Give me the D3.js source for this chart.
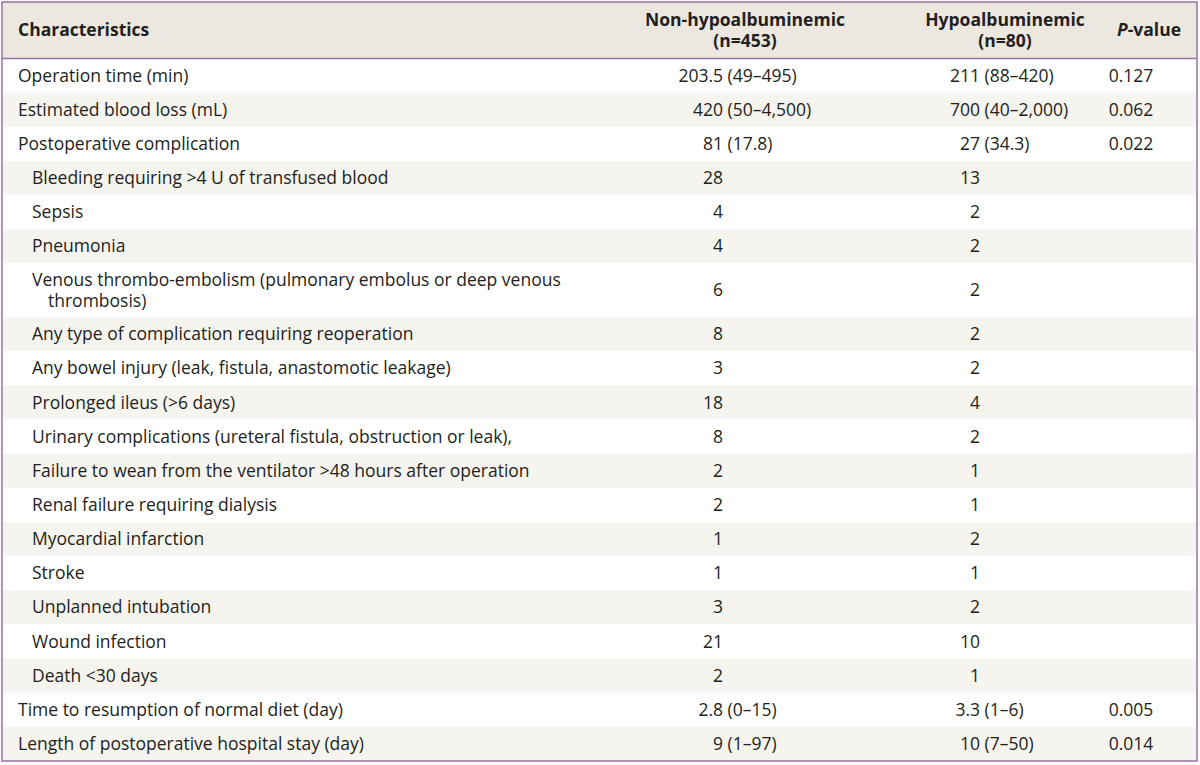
<!DOCTYPE html>
<html>
<head>
<meta charset="utf-8">
<script src="https://cdn.jsdelivr.net/npm/d3@7"></script>
<style>
  html, body { margin: 0; padding: 0; background: #fff; }
  svg { display: block; }
  text { font-family: "Open Sans", "Noto Sans", sans-serif; fill: #231f20; }
</style>
</head>
<body>
<svg id="chart" width="1200" height="765"></svg>
<script>
// ---- data ----
const headers = ["Characteristics", "Non-hypoalbuminemic", "Hypoalbuminemic", "P-value"];
const headerSub = ["", "(n=453)", "(n=80)", ""];
const characteristics = [
  ["Operation time (min)"],
  ["Estimated blood loss (mL)"],
  ["Postoperative complication"],
  ["Bleeding requiring >4 U of transfused blood"],
  ["Sepsis"],
  ["Pneumonia"],
  ["Venous thrombo-embolism (pulmonary embolus or deep venous", "thrombosis)"],
  ["Any type of complication requiring reoperation"],
  ["Any bowel injury (leak, fistula, anastomotic leakage)"],
  ["Prolonged ileus (>6 days)"],
  ["Urinary complications (ureteral fistula, obstruction or leak),"],
  ["Failure to wean from the ventilator >48 hours after operation"],
  ["Renal failure requiring dialysis"],
  ["Myocardial infarction"],
  ["Stroke"],
  ["Unplanned intubation"],
  ["Wound infection"],
  ["Death <30 days"],
  ["Time to resumption of normal diet (day)"],
  ["Length of postoperative hospital stay (day)"]
];
const indentLevel = [0,0,0,1,1,1,1,1,1,1,1,1,1,1,1,1,1,1,0,0];
const nonHypo = ["203.5 (49–495)", "420 (50–4,500)", "81 (17.8)", "28", "4", "4", "6", "8", "3", "18", "8", "2", "2", "1", "1", "3", "21", "2", "2.8 (0–15)", "9 (1–97)"];
const hypo = ["211 (88–420)", "700 (40–2,000)", "27 (34.3)", "13", "2", "2", "2", "2", "2", "4", "2", "1", "1", "2", "1", "2", "10", "1", "3.3 (1–6)", "10 (7–50)"];
const pValues = ["0.127", "0.062", "0.022", "", "", "", "", "", "", "", "", "", "", "", "", "", "", "", "0.005", "0.014"];

(function () {
// ---- layout ----
const svg = d3.select("#chart");
const leftX = 2, rightX = 1197, topY = 2, headerBottom = 58.5, bottomY = 761;
const fontSize = 17.5, lineH = 19.5, textGap = 20.5;
const purple = "#9a70a6", headerBg = "#ece8e0", altBg = "#f6f4ef";

const lines = characteristics.map(c => c.length);
const extra = d3.sum(lines, n => n - 1);
const rowH = (bottomY - headerBottom - extra * lineH) / characteristics.length;
const heights = lines.map(n => rowH + (n - 1) * lineH);
const starts = Array.from(d3.cumsum([0, ...heights])).slice(0, heights.length);
const y = d3.scaleLinear().domain([0, d3.sum(heights)]).range([headerBottom, bottomY]);

// column anchors
const x = d3.scaleOrdinal().domain(["label", "c1", "c2", "p"]).range([18, 723, 980, 1131]);
const indentX = d3.scaleOrdinal().domain([0, 1, 2]).range([18, 32, 48]);

// header
svg.append("rect").attr("x", leftX).attr("y", topY).attr("width", rightX - leftX).attr("height", headerBottom - topY).attr("fill", headerBg);

// rows background
const rows = svg.append("g").selectAll("g").data(characteristics).join("g");
rows.append("rect")
  .attr("x", leftX).attr("width", rightX - leftX)
  .attr("y", (d, i) => y(starts[i]))
  .attr("height", (d, i) => y(starts[i] + heights[i]) - y(starts[i]))
  .attr("fill", (d, i) => i % 2 === 1 ? altBg : "#fff");

// labels
rows.each(function(d, i) {
  const g = d3.select(this);
  const cy = y(starts[i] + heights[i] / 2);
  const n = d.length;
  d.forEach((t, k) => {
    const lvl = indentLevel[i] + (k > 0 ? 1 : 0);
    g.append("text")
      .attr("x", indentX(lvl))
      .attr("y", cy + (k - (n - 1) / 2) * textGap)
      .attr("dy", "0.35em")
      .attr("font-size", fontSize)
      .text(t);
  });
});

function splitVal(v) {
  const idx = v.indexOf(" ");
  return idx < 0 ? [v, ""] : [v.slice(0, idx), v.slice(idx + 1)];
}
function drawValues(arr, key) {
  rows.each(function(d, i) {
    const g = d3.select(this);
    const cy = y(starts[i] + heights[i] / 2);
    const [a, b] = splitVal(arr[i]);
    g.append("text").attr("x", x(key)).attr("y", cy).attr("dy", "0.35em")
      .attr("font-size", fontSize).attr("text-anchor", "end").text(a);
    if (b) {
      g.append("text").attr("x", x(key) + 4.5).attr("y", cy).attr("dy", "0.35em")
        .attr("font-size", fontSize).attr("text-anchor", "start").text(b);
    }
  });
}
drawValues(nonHypo, "c1");
drawValues(hypo, "c2");
rows.append("text")
  .attr("x", x("p")).attr("y", (d, i) => y(starts[i] + heights[i] / 2)).attr("dy", "0.35em")
  .attr("font-size", fontSize).attr("text-anchor", "middle")
  .text((d, i) => pValues[i]);

// header text
const hdr = svg.append("g");
hdr.append("text").attr("x", 18).attr("y", 30).attr("dy", "0.35em")
  .attr("font-size", fontSize).attr("font-weight", "bold").text(headers[0]);
const hcx = [null, 745, 1005];
[1, 2].forEach(j => {
  hdr.append("text").attr("x", hcx[j]).attr("y", 20).attr("dy", "0.35em")
    .attr("font-size", fontSize).attr("font-weight", "bold").attr("text-anchor", "middle").text(headers[j]);
  hdr.append("text").attr("x", hcx[j]).attr("y", 41).attr("dy", "0.35em")
    .attr("font-size", fontSize).attr("font-weight", "bold").attr("text-anchor", "middle").text(headerSub[j]);
});
const pt = hdr.append("text").attr("x", 1149).attr("y", 30).attr("dy", "0.35em")
  .attr("font-size", fontSize).attr("font-weight", "bold").attr("text-anchor", "middle");
pt.append("tspan").attr("font-style", "italic").text(headers[3].slice(0, 1));
pt.append("tspan").text(headers[3].slice(1));

// borders
svg.append("line").attr("x1", leftX).attr("x2", rightX).attr("y1", headerBottom).attr("y2", headerBottom)
  .attr("stroke", purple).attr("stroke-width", 1.5);
svg.append("rect").attr("x", leftX).attr("y", topY).attr("width", rightX - leftX).attr("height", bottomY - topY)
  .attr("fill", "none").attr("stroke", purple).attr("stroke-width", 1.5);
})();
</script>
</body>
</html>
